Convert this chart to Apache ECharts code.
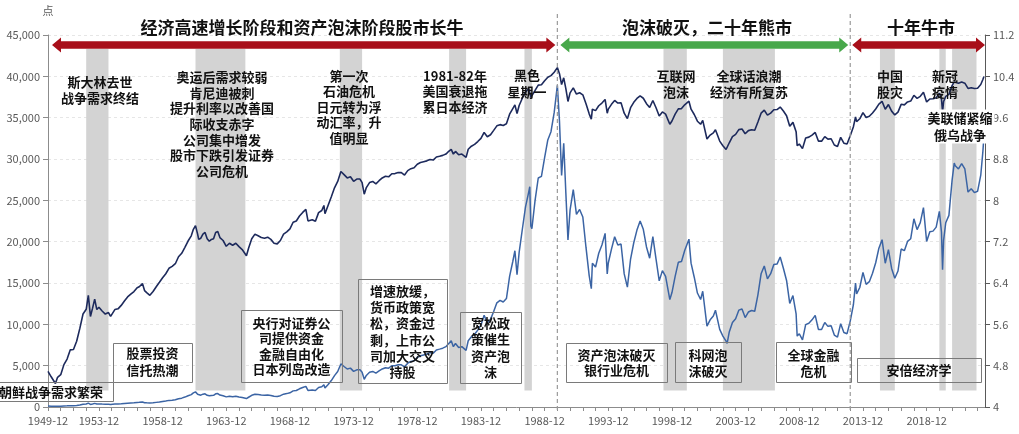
<!DOCTYPE html>
<html>
<head>
<meta charset="utf-8">
<script src="https://cdn.jsdelivr.net/npm/echarts@6/dist/echarts.min.js"></script>
<style>
  html, body { margin: 0; padding: 0; background: #fff; }
  #chart { width: 1019px; height: 434px; }
</style>
</head>
<body>
<div id="chart"></div>
<script>
// 日经225 月末（部分为区间高低点）读数
const months = [
  '1949-12',
  '1950-03', '1950-07', '1950-09', '1950-12',
  '1951-03', '1951-06', '1951-09', '1951-12',
  '1952-03', '1952-06', '1952-09', '1952-12',
  '1953-02', '1953-04', '1953-06', '1953-08', '1953-10', '1953-12',
  '1954-03', '1954-06', '1954-09', '1954-11',
  '1955-03', '1955-06', '1955-09', '1955-12',
  '1956-03', '1956-06', '1956-09', '1956-12',
  '1957-02', '1957-05', '1957-07', '1957-09', '1957-12',
  '1958-03', '1958-06', '1958-09', '1958-12',
  '1959-03', '1959-06', '1959-09', '1959-12',
  '1960-03', '1960-06', '1960-09', '1960-12',
  '1961-03', '1961-05', '1961-07', '1961-09', '1961-10', '1961-12',
  '1962-02', '1962-04', '1962-06', '1962-08', '1962-10', '1962-12',
  '1963-02', '1963-04', '1963-06', '1963-09', '1963-12',
  '1964-03', '1964-06', '1964-09', '1964-12',
  '1965-03', '1965-07', '1965-09', '1965-12',
  '1966-03', '1966-06', '1966-09', '1966-12',
  '1967-03', '1967-06', '1967-09', '1967-12',
  '1968-03', '1968-06', '1968-09', '1968-12',
  '1969-03', '1969-06', '1969-09', '1969-12',
  '1970-03', '1970-05', '1970-09', '1970-12',
  '1971-03', '1971-06', '1971-08', '1971-09', '1971-12',
  '1972-03', '1972-06', '1972-09', '1972-12',
  '1973-01', '1973-03', '1973-06', '1973-09', '1973-12',
  '1974-03', '1974-06', '1974-08', '1974-10', '1974-12',
  '1975-03', '1975-06', '1975-09', '1975-12',
  '1976-03', '1976-06', '1976-09', '1976-12',
  '1977-03', '1977-06', '1977-09', '1977-12',
  '1978-03', '1978-06', '1978-09', '1978-12',
  '1979-03', '1979-06', '1979-09', '1979-12',
  '1980-03', '1980-06', '1980-09', '1980-12',
  '1981-03', '1981-05', '1981-08', '1981-10', '1981-12',
  '1982-03', '1982-06', '1982-10', '1982-12',
  '1983-03', '1983-06', '1983-09', '1983-12',
  '1984-03', '1984-06', '1984-09', '1984-12',
  '1985-03', '1985-06', '1985-09', '1985-12',
  '1986-03', '1986-06', '1986-08', '1986-10', '1986-12',
  '1987-03', '1987-06', '1987-09', '1987-10', '1987-11', '1987-12',
  '1988-03', '1988-06', '1988-09', '1988-12',
  '1989-03', '1989-06', '1989-09', '1989-12',
  '1990-02', '1990-04', '1990-06', '1990-08', '1990-10', '1990-12',
  '1991-03', '1991-06', '1991-09', '1991-12',
  '1992-03', '1992-06', '1992-08', '1992-09', '1992-12',
  '1993-03', '1993-06', '1993-09', '1993-11', '1993-12',
  '1994-03', '1994-06', '1994-09', '1994-12',
  '1995-03', '1995-06', '1995-09', '1995-12',
  '1996-03', '1996-06', '1996-09', '1996-12',
  '1997-03', '1997-06', '1997-09', '1997-12',
  '1998-03', '1998-06', '1998-10', '1998-12',
  '1999-03', '1999-06', '1999-09', '1999-12',
  '2000-04', '2000-06', '2000-09', '2000-12',
  '2001-03', '2001-05', '2001-09', '2001-12',
  '2002-03', '2002-05', '2002-09', '2002-12',
  '2003-03', '2003-04', '2003-06', '2003-09', '2003-12',
  '2004-03', '2004-06', '2004-09', '2004-12',
  '2005-03', '2005-06', '2005-09', '2005-12',
  '2006-03', '2006-06', '2006-09', '2006-12',
  '2007-03', '2007-06', '2007-09', '2007-12',
  '2008-03', '2008-06', '2008-09', '2008-10', '2008-12',
  '2009-03', '2009-06', '2009-09', '2009-12',
  '2010-03', '2010-06', '2010-09', '2010-12',
  '2011-03', '2011-06', '2011-09', '2011-12',
  '2012-03', '2012-06', '2012-09', '2012-12',
  '2013-03', '2013-05', '2013-06', '2013-09', '2013-12',
  '2014-03', '2014-06', '2014-09', '2014-12',
  '2015-03', '2015-06', '2015-09', '2015-12',
  '2016-03', '2016-06', '2016-09', '2016-12',
  '2017-03', '2017-06', '2017-09', '2017-12',
  '2018-03', '2018-06', '2018-09', '2018-12',
  '2019-03', '2019-06', '2019-09', '2019-12',
  '2020-02', '2020-03', '2020-04', '2020-06', '2020-09', '2020-12',
  '2021-02', '2021-03', '2021-06', '2021-09', '2021-12',
  '2022-03', '2022-06', '2022-09', '2022-12',
  '2023-03', '2023-05', '2023-06'
];

const nikkei = [
  109,
  98, 86, 97, 102,
  124, 138, 165, 166,
  195, 250, 330, 362,
  474, 315, 370, 440, 360, 377,
  350, 330, 340, 315,
  360, 365, 390, 425,
  460, 485, 510, 549,
  560, 595, 520, 500, 474,
  510, 560, 610, 666,
  720, 800, 830, 874,
  1000, 1070, 1200, 1356,
  1500, 1700, 1829, 1550, 1400, 1432,
  1550, 1600, 1420, 1350, 1400, 1420,
  1600, 1630, 1450, 1370, 1225,
  1300, 1250, 1300, 1216,
  1150, 1020, 1180, 1417,
  1550, 1500, 1450, 1430,
  1460, 1400, 1300, 1283,
  1370, 1550, 1620, 1715,
  1950, 2000, 2200, 2359,
  2500, 2000, 2050, 1987,
  2350, 2450, 2700, 2300, 2714,
  3200, 3800, 4300, 5208,
  5359, 4900, 4600, 4700, 4307,
  4500, 4500, 4200, 3355, 3817,
  4200, 4300, 4100, 4359,
  4600, 4750, 4700, 4991,
  5000, 5100, 5100, 4866,
  5300, 5500, 5600, 6002,
  6200, 6300, 6400, 6570,
  6500, 6900, 7000, 7116,
  7300, 7600, 8000, 7300, 7682,
  7200, 7300, 6850, 8017,
  8500, 8800, 9300, 9894,
  11100, 10200, 10600, 11543,
  12600, 12900, 12700, 13113,
  15800, 17600, 18900, 16000, 18701,
  21500, 24200, 26000, 26646, 21910, 21564,
  25000, 27700, 27900, 30159,
  32300, 33300, 35600, 38916,
  34600, 28000, 31900, 25900, 20200, 23849,
  26300, 23300, 23900, 22984,
  19300, 15900, 14309, 17400, 16925,
  18600, 19600, 21000, 16100, 17417,
  19100, 20600, 19600, 19723,
  16100, 14500, 17900, 19868,
  21400, 22500, 21500, 19361,
  18000, 20600, 17900, 15259,
  16500, 15800, 13000, 13842,
  15800, 17500, 17600, 18934,
  20300, 17400, 15700, 13786,
  13000, 14000, 9775, 10543,
  11000, 11700, 9383, 8579,
  7973, 7700, 9083, 10219, 10677,
  11715, 11858, 10824, 11489,
  11668, 11584, 13574, 16111,
  17060, 15505, 16128, 17226,
  17288, 18138, 16786, 15308,
  12526, 13481, 11260, 8577, 8860,
  8110, 9958, 10133, 10546,
  11090, 9383, 9369, 10229,
  9755, 9816, 8700, 8455,
  10084, 9007, 8870, 10395,
  12398, 15000, 13677, 14456, 16291,
  14828, 15162, 16174, 17451,
  19207, 20236, 17388, 19034,
  16759, 15576, 16450, 19114,
  18909, 20033, 20356, 22765,
  21454, 22305, 24120, 20015,
  21206, 21276, 21756, 23657,
  21143, 16600, 20193, 22288, 23185, 27444,
  29500, 29179, 28792, 29453, 28792,
  26000, 26393, 25937, 26095,
  28041, 30888, 32800
];

// 灰色区间（事件期）
const bandStart = ['1952-12', '1961-07', '1972-11', '1981-06', '1987-05', '1998-04', '2002-12', '2015-04', '2019-12', '2020-12'];
const bandEnd   = ['1954-09', '1965-06', '1974-08', '1982-10', '1987-12', '2000-02', '2007-01', '2016-06', '2020-06', '2022-11'];

// 阶段分界
const phaseBreaks = ['1989-12', '2012-12'];

const xLabelMonths = ['1949-12', '1953-12', '1958-12', '1963-12', '1968-12', '1973-12', '1978-12',
  '1983-12', '1988-12', '1993-12', '1998-12', '2003-12', '2008-12', '2013-12', '2018-12'];

const FONT = 'Noto Sans CJK SC';

// months since 1949-12
const toMonth = s => {
  const [y, m] = s.split('-').map(Number);
  return (y - 1949) * 12 + (m - 12);
};
const X_MAX = toMonth('2023-07');

const yearTicks = [];
for (let m = 0; m <= X_MAX; m += 12) yearTicks.push(m);

const levelData = months.map((d, i) => [toMonth(d), nikkei[i]]);
// 右轴为指数的自然对数
const logData = months.map((d, i) => [toMonth(d), Math.log(nikkei[i])]);

const chart = echarts.init(document.getElementById('chart'));

chart.setOption({
  animation: false,
  backgroundColor: '#fff',
  textStyle: { fontFamily: FONT },
  grid: { left: 48, right: 34, top: 35, bottom: 27 },
  xAxis: {
    type: 'value',
    min: 0,
    max: X_MAX,
    axisLine: { lineStyle: { color: '#8c8c8c' } },
    axisTick: { customValues: yearTicks, length: 4, lineStyle: { color: '#8c8c8c' } },
    axisLabel: {
      customValues: xLabelMonths.map(toMonth),
      formatter: v => `${1949 + v / 12}-12`,
      color: '#595959',
      fontSize: 11,
      margin: 8
    },
    splitLine: { show: false }
  },
  yAxis: [{
    type: 'value',
    min: 0,
    max: 45000,
    interval: 5000,
    name: '点',
    nameGap: 19,
    nameTextStyle: { color: '#595959', fontSize: 11, align: 'center' },
    axisLine: { show: true, lineStyle: { color: '#8c8c8c' } },
    axisTick: { show: true, length: 5, lineStyle: { color: '#8c8c8c' } },
    axisLabel: {
      color: '#595959',
      fontSize: 11,
      margin: 8,
      formatter: v => v.toLocaleString('en-US')
    },
    splitLine: { lineStyle: { color: '#e6e6e6', type: [3, 3] } }
  }, {
    type: 'value',
    position: 'right',
    min: 4,
    max: 11.2,
    interval: 0.8,
    axisLine: { show: true, lineStyle: { color: '#595959' } },
    axisTick: { show: true, length: 5, lineStyle: { color: '#595959' } },
    axisLabel: {
      color: '#595959',
      fontSize: 11,
      margin: 8,
      formatter: v => String(parseFloat(v.toFixed(1)))
    },
    splitLine: { show: false }
  }],
  series: [{
    name: '日经225',
    type: 'line',
    yAxisIndex: 0,
    data: levelData,
    symbol: 'none',
    lineStyle: { color: '#3b64a4', width: 1.5 },
    markArea: {
      silent: true,
      itemStyle: { color: '#d3d3d3' },
      data: bandStart.map((s, i) => [
        { coord: [toMonth(s), 2000] },
        { coord: [toMonth(bandEnd[i]), 43300] }
      ])
    }
  }, {
    name: '日经225（对数，右轴）',
    type: 'line',
    yAxisIndex: 1,
    data: logData,
    symbol: 'none',
    lineStyle: { color: '#1d2a5c', width: 1.6 }
  }]
});

// ---- 注释、箭头、分界线 ----
const px = m => chart.convertToPixel({ xAxisIndex: 0 }, m);
const xLeft = px(0);
const xRight = px(X_MAX);
const xBreak1 = px(toMonth(phaseBreaks[0]));
const xBreak2 = px(toMonth(phaseBreaks[1]));

function arrow(x1, x2, color) {
  const y = 45, L = 9, H = 7.5, h = 3.8;
  return {
    type: 'polygon', z: 100, silent: true,
    shape: {
      points: [[x1, y], [x1 + L, y - H], [x1 + L, y - h], [x2 - L, y - h], [x2 - L, y - H],
        [x2, y], [x2 - L, y + H], [x2 - L, y + h], [x1 + L, y + h], [x1 + L, y + H]]
    },
    style: { fill: color }
  };
}

function dashLine(x) {
  return {
    type: 'line', z: 99, silent: true,
    shape: { x1: x, y1: 14, x2: x, y2: 411 },
    style: { stroke: '#9a9a9a', lineWidth: 1.2, lineDash: [4, 3] }
  };
}

function note(text, x, y, lh, extra) {
  return {
    type: 'text', z: 102, silent: true, x, y,
    style: Object.assign({
      text, fill: '#111', fontSize: 13, fontWeight: 'bold', fontFamily: FONT,
      textAlign: 'center', textVerticalAlign: 'middle', lineHeight: lh
    }, extra || {})
  };
}

function box(x0, y0, x1, y1) {
  return {
    type: 'rect', z: 101, silent: true,
    shape: { x: x0 + 0.5, y: y0 + 0.5, width: x1 - x0, height: y1 - y0 },
    style: { fill: 'none', stroke: '#7a7a7a', lineWidth: 1 }
  };
}

const titleStyle = { fontSize: 17, fontWeight: 'bold', fill: '#111' };

chart.setOption({
  graphic: [
    dashLine(xBreak1),
    dashLine(xBreak2),
    arrow(xLeft + 4, xBreak1 - 2, '#a80f1a'),
    arrow(xBreak1 + 3, xBreak2 - 2, '#48a84b'),
    arrow(xBreak2 + 2, xRight, '#a80f1a'),

    note('经济高速增长阶段和资产泡沫阶段股市长牛', 302, 28, 20, titleStyle),
    note('泡沫破灭，二十年熊市', 707, 28, 20, titleStyle),
    note('十年牛市', 921, 28, 20, titleStyle),

    note('斯大林去世\n战争需求终结', 100, 90, 16),
    note('奥运后需求较弱\n肯尼迪被刺\n提升利率以改善国\n际收支赤字\n公司集中增发\n股市下跌引发证券\n公司危机', 222, 124, 15.6),
    note('第一次\n石油危机\n日元转为浮\n动汇率，升\n值明显', 349, 107, 15.5),
    note('1981-82年\n美国衰退拖\n累日本经济', 455, 91.5, 15.5),
    note('黑色\n星期一', 527, 83.5, 16.5),
    note('互联网\n泡沫', 676, 84, 16),
    note('全球话浪潮\n经济有所复苏', 749, 84, 16),
    note('中国\n股灾', 890, 84, 16),
    note('新冠\n疫情', 945, 84, 16),
    note('美联储紧缩\n俄乌战争', 961, 126.5, 17, { backgroundColor: '#fff', padding: [0, 2, 0, 0] }),

    box(-10, 382, 113, 401),
    note('朝鲜战争需求繁荣', 51, 392, 16),
    box(113, 343, 192, 382),
    note('股票投资\n信托热潮', 152.5, 362, 17),
    box(241, 310, 342, 382),
    note('央行对证券公\n司提供资金\n金融自由化\n日本列岛改造', 291.5, 346, 15.4),
    box(358, 279, 447, 383),
    note('增速放缓，\n货币政策宽\n松，资金过\n剩，上市公\n司加大交叉\n持股', 402.5, 331.5, 16.2),
    box(460, 312, 521, 383),
    note('宽松政\n策催生\n资产泡\n沫', 490.5, 347.5, 16.3),
    box(566, 343, 667, 382),
    note('资产泡沫破灭\n银行业危机', 616.5, 362.5, 15.5),
    box(675, 342, 741, 382),
    note('科网泡\n沫破灭', 708, 363, 16),
    box(776, 342, 851, 382),
    note('全球金融\n危机', 813.5, 363, 16),
    box(857, 358, 981, 382),
    note('安倍经济学', 919, 370, 16)
  ]
});
</script>
</body>
</html>
